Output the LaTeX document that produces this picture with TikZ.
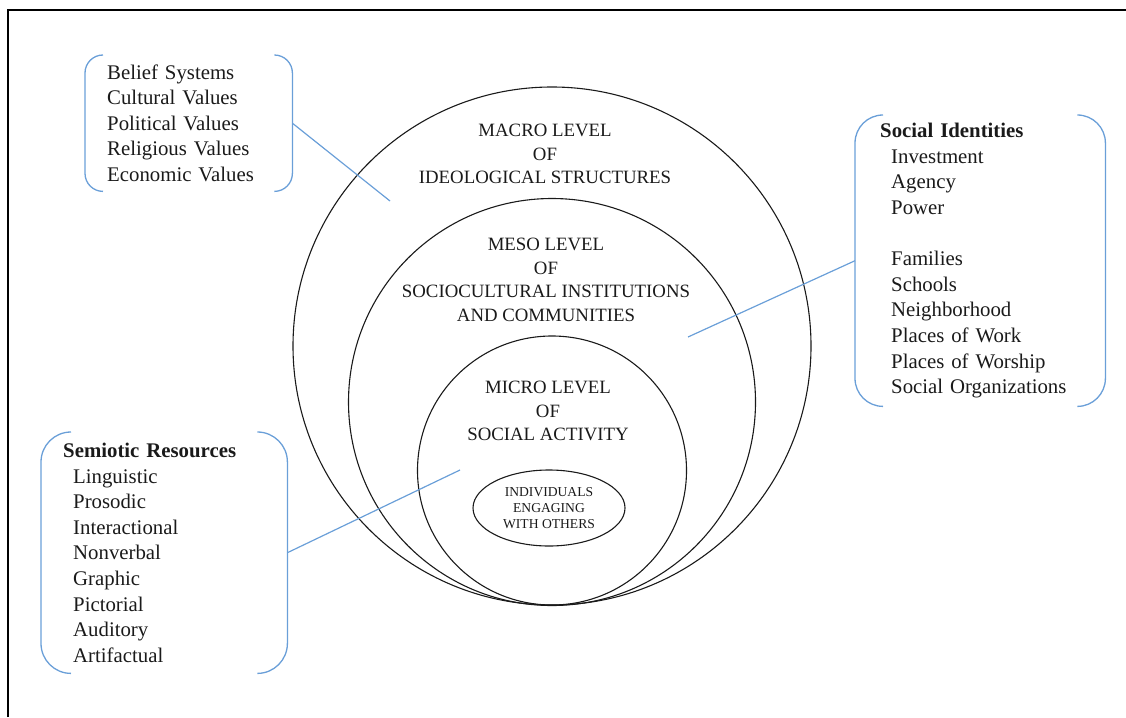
\documentclass[tikz,border=0pt]{standalone}
\usepackage{fontspec}
\setmainfont{Liberation Serif}
\usepackage{tikz}
\usetikzlibrary{shapes.geometric}
\definecolor{wordblue}{HTML}{6A9FD8}
\definecolor{ink}     {HTML}{1A1A1A}

% pair of round brackets around a node: #1 node name, #2 corner radius
\newcommand{\bracketpair}[2]{%
  \draw[bracket, rounded corners=#2] ([xshift=#2]#1.north west) -- (#1.north west) -- (#1.south west) -- ([xshift=#2]#1.south west);
  \draw[bracket, rounded corners=#2] ([xshift=-#2]#1.north east) -- (#1.north east) -- (#1.south east) -- ([xshift=-#2]#1.south east);
}

\begin{document}
\begin{tikzpicture}[x=1pt, y=-1pt,
    ring/.style={circle, draw=ink, line width=1.1pt, inner sep=0pt},
    level/.style={align=center, text=ink, font=\fontsize{18.8}{23.5}\selectfont},
    listbox/.style={anchor=north west, align=left, inner ysep=0pt, text=ink, font=\fontsize{20.8}{25.6}\selectfont},
    bracket/.style={draw=wordblue, line width=1.3pt},
    link/.style={draw=wordblue, line width=1.2pt}]
  \useasboundingbox (0,0) rectangle (1126,717);
  \draw[line width=2pt] (8,717) -- (8,10) -- (1126,10);

  % nested levels
  \node[ring, minimum size=518pt] (macro) at (552,346) {};
  \node[ring, minimum size=407pt] (meso)  at (552,402) {};
  \node[ring, minimum size=269pt] (micro) at (552,470.5) {};
  \node[ellipse, draw=ink, line width=1.1pt, minimum width=152pt, minimum height=76pt, inner sep=1pt,
        align=center, text=ink, font=\fontsize{13.6}{16.3}\selectfont] (core) at (549,508)
    {INDIVIDUALS\\ENGAGING\\WITH OTHERS};

  \node[level] (macrolbl) at (545,154) {MACRO LEVEL\\OF\\IDEOLOGICAL STRUCTURES};
  \node[level] (mesolbl)  at (546,280) {MESO LEVEL\\OF\\SOCIOCULTURAL INSTITUTIONS\\AND COMMUNITIES};
  \node[level] (microlbl) at (548,411) {MICRO LEVEL\\OF\\SOCIAL ACTIVITY};

  % bracketed lists
  \node[listbox, minimum width=207pt, minimum height=136pt, text width=163pt, inner xsep=22pt] (beliefs) at (85,55)
    {Belief Systems\\Cultural Values\\Political Values\\Religious Values\\Economic Values};
  \node[listbox, minimum width=250pt, minimum height=291pt, text width=200pt, inner xsep=25pt] (identities) at (855,115)
    {\textbf{Social Identities}\\
     \hspace*{11pt}Investment\\\hspace*{11pt}Agency\\\hspace*{11pt}Power\\[25.6pt]
     \hspace*{11pt}Families\\\hspace*{11pt}Schools\\\hspace*{11pt}Neighborhood\\
     \hspace*{11pt}Places of Work\\\hspace*{11pt}Places of Worship\\\hspace*{11pt}Social Organizations};
  \node[listbox, minimum width=246pt, minimum height=241pt, text width=202pt, inner xsep=22pt] (semiotic) at (41,432)
    {\textbf{Semiotic Resources}\\
     \hspace*{10pt}Linguistic\\\hspace*{10pt}Prosodic\\\hspace*{10pt}Interactional\\\hspace*{10pt}Nonverbal\\
     \hspace*{10pt}Graphic\\\hspace*{10pt}Pictorial\\\hspace*{10pt}Auditory\\\hspace*{10pt}Artifactual};

  \bracketpair{beliefs}{18pt}
  \bracketpair{identities}{28pt}
  \bracketpair{semiotic}{30pt}

  % pointers into the levels
  \coordinate (macropt) at (390,201);
  \coordinate (mesopt)  at (688,337);
  \coordinate (micropt) at (460,470);
  \draw[link] (beliefs.east) -- (macropt);
  \draw[link] (identities.west) -- (mesopt);
  \draw[link] (semiotic.east) -- (micropt);
\end{tikzpicture}
\end{document}
